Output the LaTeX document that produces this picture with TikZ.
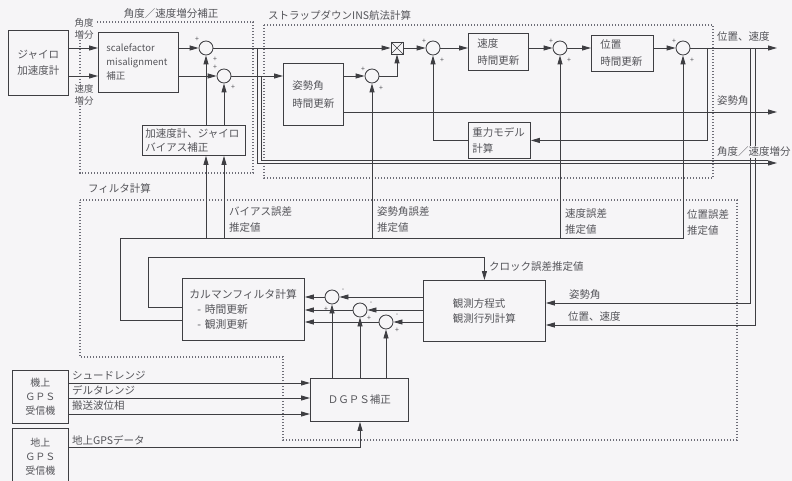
\documentclass[tikz,border=0pt]{standalone}
\usepackage{fontspec}
\setmainfont{Noto Sans CJK JP}
\usetikzlibrary{arrows.meta,calc}
\definecolor{bg}{RGB}{246,245,247}
\definecolor{lnc}{RGB}{62,62,66}
\definecolor{tx}{RGB}{85,85,90}
\definecolor{dt}{RGB}{110,110,120}
\begin{document}
\begin{tikzpicture}[x=1pt,y=-1pt,
  font=\fontsize{10.5}{16}\selectfont,
  every node/.style={text=tx},
  blk/.style={draw=lnc, line width=0.85pt, inner ysep=0pt},
  arr/.style={draw=lnc, line width=0.85pt, -{Triangle[length=9pt,width=5pt]}},
  lnn/.style={draw=lnc, line width=0.85pt},
  sumc/.style={circle, draw=lnc, line width=0.85pt, minimum size=14pt, inner sep=0pt},
  multbox/.style={draw=lnc, line width=0.85pt, minimum size=12pt, inner sep=0pt,
    path picture={\draw[lnc, line width=0.6pt] (path picture bounding box.south west) -- (path picture bounding box.north east) (path picture bounding box.north west) -- (path picture bounding box.south east);}},
  sg/.style={font=\fontsize{7}{7}\selectfont, inner sep=0pt},
  dots/.style={draw=dt, line width=1.1pt, dash pattern=on 1.3pt off 1.7pt},
  lbl/.style={anchor=west, inner sep=0pt, align=left},
]
\useasboundingbox (0,0) rectangle (792,481);
\clip (0,0) rectangle (792,481);
\fill[bg] (0,0) rectangle (792,481);

% dotted groups
\draw[dots] (80,22) rectangle (253,173);
\draw[dots] (264,25) rectangle (713,178);
\draw[dots] (80,200) -- (737,200) -- (737,440) -- (283,440) -- (283,357) -- (80,357) -- cycle;
\node[inner sep=1pt] (tAng) at (171,14) {角度／速度増分補正};
\node[lbl] (tIns) at (268,15) {ストラップダウンINS航法計算};
\node[lbl] (tFil) at (88,188) {フィルタ計算};

% blocks
\node[blk, anchor=north west, minimum width=60pt, minimum height=65pt, align=center] (gyro) at (8,30) {ジャイロ\\加速度計};
\node[blk, anchor=north west, minimum width=80pt, minimum height=60pt, inner xsep=8pt, text width=64pt, align=left, font=\fontsize{9.5}{14}\selectfont] (sf) at (98,32) {scalefactor\\misalignment\\補正};
\node[blk, anchor=north west, minimum width=103pt, minimum height=30pt, inner xsep=3pt, text width=97pt, align=left, font=\fontsize{10.5}{14}\selectfont] (bias) at (142,125) {加速度計、ジャイロ\\バイアス補正};
\node[blk, anchor=north west, minimum width=60pt, minimum height=62pt, inner xsep=9pt, text width=42pt, align=left, font=\fontsize{10.5}{18}\selectfont] (att) at (283,63) {姿勢角\\時間更新};
\node[blk, anchor=north west, minimum width=60pt, minimum height=37pt, inner xsep=9pt, text width=42pt, align=left, font=\fontsize{10.5}{17}\selectfont] (vel) at (468,33) {速度\\時間更新};
\node[blk, anchor=north west, minimum width=62pt, minimum height=36pt, inner xsep=9pt, text width=44pt, align=left, font=\fontsize{10.5}{17}\selectfont] (pos) at (591,35) {位置\\時間更新};
\node[blk, anchor=north west, minimum width=62pt, minimum height=36pt, inner xsep=4pt, text width=54pt, align=left] (grav) at (468,122) {重力モデル\\計算};
\node[blk, anchor=north west, minimum width=122pt, minimum height=62pt, inner xsep=7pt, text width=108pt, align=left, font=\fontsize{10.8}{15}\selectfont] (kal) at (182,278) {カルマンフィルタ計算\\\hspace*{8pt}- 時間更新\\\hspace*{8pt}- 観測更新};
\node[blk, anchor=north west, minimum width=122pt, minimum height=61pt, align=left, font=\fontsize{10.5}{15}\selectfont] (obs) at (423,280) {観測方程式\\観測行列計算};
\node[blk, anchor=north west, minimum width=98pt, minimum height=43pt, align=center] (dgps) at (310,378) {ＤＧＰＳ補正};
\node[blk, anchor=north west, minimum width=56pt, minimum height=53pt, align=center, font=\fontsize{10}{14}\selectfont] (rx1) at (12,370) {機上\\ＧＰＳ\\受信機};
\node[blk, anchor=north west, minimum width=56pt, minimum height=56pt, align=center, font=\fontsize{10}{14}\selectfont] (rx2) at (12,428) {地上\\ＧＰＳ\\受信機};

% junctions
\node[sumc] (c1) at (206,48) {};
\node[sumc] (c2) at (224,76) {};
\node[sumc] (c3) at (372,76) {};
\node[multbox] (mult) at (397,48) {};
\node[sumc] (c4) at (433,48) {};
\node[sumc] (c5) at (560,48) {};
\node[sumc] (c6) at (683,48) {};
\node[sumc] (ka) at (332,297) {};
\node[sumc] (kb) at (360,310) {};
\node[sumc] (kc) at (386,322) {};

% signs
\node[sg] (s1a) at ($(c1)+(-9,-9)$) {+};
\node[sg] (s1b) at ($(c1)+(9,11)$) {+};
\node[sg] (s2a) at ($(c2)+(-9,-9)$) {+};
\node[sg] (s2b) at ($(c2)+(9,11)$) {+};
\node[sg] (s3a) at ($(c3)+(-9,-7)$) {+};
\node[sg] (s3b) at ($(c3)+(9,12)$) {+};
\node[sg] (s4a) at ($(c4)+(-9,-7)$) {+};
\node[sg] (s4b) at ($(c4)+(9,12)$) {+};
\node[sg] (s5a) at ($(c5)+(-9,-7)$) {+};
\node[sg] (s5b) at ($(c5)+(9,12)$) {+};
\node[sg] (s6a) at ($(c6)+(-9,-7)$) {+};
\node[sg] (s6b) at ($(c6)+(9,12)$) {+};
\node[sg] (ska) at ($(ka)+(11,-7)$) {-};
\node[sg] (skb) at ($(ka)+(-6,12)$) {+};
\node[sg] (skc) at ($(kb)+(11,-7)$) {-};
\node[sg] (skd) at ($(kb)+(9,8)$) {+};
\node[sg] (ske) at ($(kc)+(11,-7)$) {-};
\node[sg] (skf) at ($(kc)+(11,8)$) {+};

% coordinates
\coordinate (j1) at (257,48);
\coordinate (j2) at (261,76);
\coordinate (o1) at (777,48);
\coordinate (o2) at (777,112);
\coordinate (o3) at (777,163);
\coordinate (o3b) at (768,160);
\coordinate (jp) at (707,48);
\coordinate (jv1) at (750,48);
\coordinate (jv2) at (755,48);
\coordinate (oa) at (750,303);
\coordinate (ob) at (755,325);
\coordinate (L1) at (120,238);
\coordinate (L2) at (148,257);
\coordinate (kl1) at (150,320);
\coordinate (kl2) at (150,307);
\coordinate (r1) at (100,383);
\coordinate (r2) at (100,398);
\coordinate (r3) at (100,414);
\coordinate (r4) at (100,447);

% top-left connectors
\draw[arr] (gyro.east |- c1) -- (sf.west |- c1);
\draw[arr] (gyro.east |- c2) -- (sf.west |- c2);
\node[fill=bg, inner sep=1pt, align=center, font=\fontsize{9.5}{12}\selectfont] (lAng) at (84,29) {角度\\増分};
\node[fill=bg, inner sep=1pt, align=center, font=\fontsize{9.5}{12}\selectfont] (lVel) at (84,95) {速度\\増分};
\draw[arr] (sf.east |- c1) -- (c1.west);
\draw[arr] (sf.east |- c2) -- (c2.west);
\draw[arr] (bias.north -| c1) -- (c1.south);
\draw[arr] (bias.north -| c2) -- (c2.south);
\draw[arr] (c1.east) -- (mult.west);
\draw[arr] (c2.east) -- (att.west |- c2);
\draw[arr] (j1) |- (o3);
\draw[lnn] (j2) |- (o3b);

% INS chain
\draw[arr] (att.east |- c3) -- (c3.west);
\draw[arr] (att.east |- o2) -- (o2);
\draw[arr] (c3.east) -| (mult.south);
\draw[arr] (mult.east) -- (c4.west);
\draw[arr] (c4.east) -- (vel.west |- c4);
\draw[arr] (vel.east |- c5) -- (c5.west);
\draw[arr] (c5.east) -- (pos.west |- c5);
\draw[arr] (pos.east |- c6) -- (c6.west);
\draw[arr] (c6.east) -- (o1);
\draw[arr] (jp) |- (grav.east);
\draw[arr] (grav.west) -| (c4.south);

% feedback into observation block
\draw[arr] (jv1) -- (oa) -- (obs.east |- oa);
\draw[arr] (jv2) -- (ob) -- (obs.east |- ob);
\node[lbl] (tAt2) at (569,295) {姿勢角};
\node[lbl] (tPV2) at (568,317) {位置、速度};

% outputs labels
\node[lbl] (tPV) at (717,37) {位置、速度};
\node[lbl, fill=bg] (tAt) at (717,101) {姿勢角};
\node[lbl, fill=bg, inner sep=1pt] (tAV) at (716,152) {角度／速度増分};

% Kalman feedback loops
\draw[arr] (kal.west |- kl1) -| (L1) -| (c6.south);
\draw[arr] (c1 |- L1) -- (bias.south -| c1);
\draw[arr] (c2 |- L1) -- (bias.south -| c2);
\draw[arr] (c3 |- L1) -- (c3.south);
\draw[arr] (c5 |- L1) -- (c5.south);
\draw[arr] (kal.west |- kl2) -| (L2) -| (obs.north);
\node[lbl] (eB) at (229,220) {バイアス誤差\\推定値};
\node[lbl] (eA) at (377,220) {姿勢角誤差\\推定値};
\node[lbl] (eV) at (565,222) {速度誤差\\推定値};
\node[lbl] (eP) at (687,223) {位置誤差\\推定値};
\node[lbl] (eC) at (489,267) {クロック誤差推定値};

% observation -> residuals -> Kalman
\draw[arr] (obs.west |- ka) -- (ka.east);
\draw[arr] (obs.west |- kb) -- (kb.east);
\draw[arr] (obs.west |- kc) -- (kc.east);
\draw[arr] (ka.west) -- (kal.east |- ka);
\draw[arr] (kb.west) -- (kal.east |- kb);
\draw[arr] (kc.west) -- (kal.east |- kc);
\draw[arr] (dgps.north -| ka) -- (ka.south);
\draw[arr] (dgps.north -| kb) -- (kb.south);
\draw[arr] (dgps.north -| kc) -- (kc.south);

% GPS receivers
\draw[arr] (rx1.east |- r1) -- (dgps.west |- r1);
\draw[arr] (rx1.east |- r2) -- (dgps.west |- r2);
\draw[arr] (rx1.east |- r3) -- (dgps.west |- r3);
\draw[arr] (rx2.east |- r4) -| (dgps.south -| kb);
\node[lbl] (g1) at (72,376) {シュードレンジ};
\node[lbl] (g2) at (72,390) {デルタレンジ};
\node[lbl] (g3) at (72,406) {搬送波位相};
\node[lbl] (g4) at (72,440) {地上GPSデータ};
\end{tikzpicture}
\end{document}
